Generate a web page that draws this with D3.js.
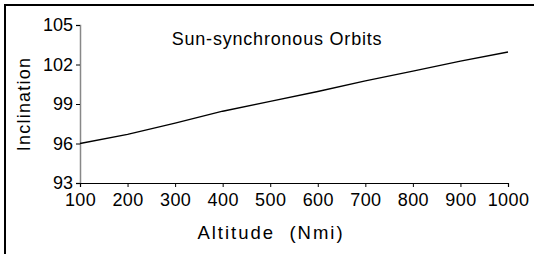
<!DOCTYPE html>
<html>
<head>
<meta charset="utf-8">
<script src="https://cdn.jsdelivr.net/npm/d3@7"></script>
<style>
  body { margin: 0; background: #fff; }
  svg { display: block; font-family: "Liberation Sans", Arial, sans-serif; }
</style>
</head>
<body>
<svg width="534" height="254"></svg>
<script>
// data
const altitude = [100, 200, 300, 400, 500, 600, 700, 800, 900, 1000];
const inclination = [96.0, 96.7, 97.55, 98.45, 99.2, 99.95, 100.75, 101.5, 102.25, 102.95];
const xTicks = [100, 200, 300, 400, 500, 600, 700, 800, 900, 1000];
const yTicks = [93, 96, 99, 102, 105];

const svg = d3.select("svg");

// frame (only top and left edges show)
svg.append("path")
  .attr("d", "M5,254V5H534")
  .attr("fill", "none")
  .attr("stroke", "#000")
  .attr("stroke-width", 2);

const x = d3.scaleLinear().domain([100, 1000]).range([80, 508]);
const y = d3.scaleLinear().domain([93, 105]).range([183, 25]);

// Y axis
const yAxis = svg.append("g")
  .attr("transform", "translate(80,0)")
  .call(d3.axisLeft(y).tickValues(yTicks).tickSize(4).tickPadding(3));
yAxis.select(".domain").attr("stroke", "#888").attr("stroke-width", 1.5);
yAxis.selectAll(".tick line").attr("stroke", "#000");
yAxis.selectAll(".tick text")
  .attr("font-size", 18)
  .attr("fill", "#000")
  .attr("font-family", "Liberation Sans, Arial, sans-serif");

// X axis
const xAxis = svg.append("g")
  .attr("transform", "translate(0,183)")
  .call(d3.axisBottom(x).tickValues(xTicks).tickFormat(d3.format("d")).tickSize(4).tickPadding(6));
xAxis.select(".domain").attr("stroke", "#000").attr("stroke-width", 1.2);
xAxis.selectAll(".tick text")
  .attr("font-size", 18)
  .attr("fill", "#000")
  .attr("letter-spacing", 0.4)
  .attr("font-family", "Liberation Sans, Arial, sans-serif");

// line
const data = altitude.map((a, i) => ({ a: a, v: inclination[i] }));
svg.append("path")
  .datum(data)
  .attr("fill", "none")
  .attr("stroke", "#000")
  .attr("stroke-width", 1.3)
  .attr("d", d3.line().x(d => x(d.a)).y(d => y(d.v)));

// title
svg.append("text")
  .attr("x", 277)
  .attr("y", 45)
  .attr("text-anchor", "middle")
  .attr("font-size", 18)
  .attr("letter-spacing", 0.8)
  .text("Sun-synchronous Orbits");

// axis titles
svg.append("text")
  .attr("x", 271)
  .attr("y", 239)
  .attr("text-anchor", "middle")
  .attr("font-size", 18.5)
  .attr("letter-spacing", 2)
  .attr("xml:space", "preserve")
  .text("Altitude  (Nmi)");

svg.append("text")
  .attr("transform", "translate(30,104) rotate(-90)")
  .attr("text-anchor", "middle")
  .attr("font-size", 18)
  .attr("letter-spacing", 1.2)
  .text("Inclination");
</script>
</body>
</html>
